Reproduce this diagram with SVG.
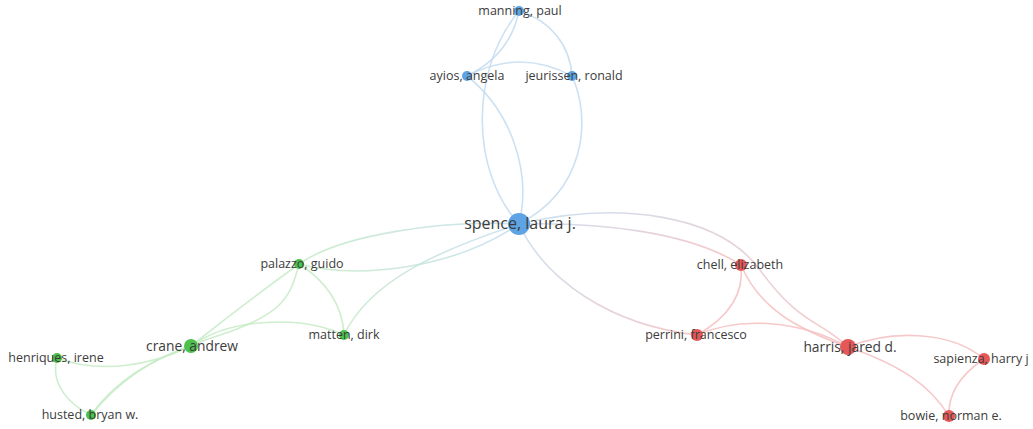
<svg xmlns="http://www.w3.org/2000/svg" width="1033" height="429" viewBox="0 0 1033 429">
<style>
.e{fill:none;stroke-width:1.6;stroke-linecap:round;stroke-opacity:0.85}
.b{stroke:#c4dcf0}
.g{stroke:#c6ebc6}
.r{stroke:#f5c0c0}
.bn{fill:#5ea4e4}
.gn{fill:#4cc24c}
.rn{fill:#e65858}
text{font-family:"Open Sans","Liberation Sans",sans-serif;fill:#3c3c3c;text-anchor:middle;font-size:12.5px}
.l{font-size:16px}
.m{font-size:13.8px}
</style>
<defs>
<linearGradient id="br" gradientUnits="userSpaceOnUse" x1="519" y1="224" x2="741" y2="265">
<stop offset="0" stop-color="#c4dcf0"/><stop offset="1" stop-color="#f5c0c0"/>
</linearGradient>
<linearGradient id="br2" gradientUnits="userSpaceOnUse" x1="519" y1="224" x2="848" y2="347">
<stop offset="0" stop-color="#c4dcf0"/><stop offset="1" stop-color="#f5c0c0"/>
</linearGradient>
<linearGradient id="br3" gradientUnits="userSpaceOnUse" x1="519" y1="224" x2="697" y2="335">
<stop offset="0" stop-color="#c4dcf0"/><stop offset="1" stop-color="#f5c0c0"/>
</linearGradient>
<linearGradient id="bg" gradientUnits="userSpaceOnUse" x1="519" y1="224" x2="299" y2="264">
<stop offset="0" stop-color="#c4dcf0"/><stop offset="1" stop-color="#c6ebc6"/>
</linearGradient>
<linearGradient id="bg2" gradientUnits="userSpaceOnUse" x1="519" y1="224" x2="344" y2="335">
<stop offset="0" stop-color="#c4dcf0"/><stop offset="1" stop-color="#c6ebc6"/>
</linearGradient>
</defs>
<rect width="1033" height="429" fill="#ffffff"/>
<g id="connectors">
<path class="e b" d="M519,11 Q510,55 467,76"/>
<path class="e b" d="M519,11 C470,70 470,170 519,224"/>
<path class="e b" d="M519,11 C550,20 570,45 572,76"/>
<path class="e b" d="M467,76 Q520,48 572,76"/>
<path class="e b" d="M467,76 C510,110 532,170 519,224"/>
<path class="e b" d="M572,76 C592,120 585,190 519,224"/>
<path class="e" stroke="url(#bg)" d="M299,264 C340,235 440,220 519,224"/>
<path class="e" stroke="url(#bg)" d="M299,264 C360,280 455,268 519,224"/>
<path class="e" stroke="url(#bg2)" d="M344,335 C370,280 440,250 519,224"/>
<path class="e" stroke="url(#br)" d="M519,224 C600,222 690,232 741,265"/>
<path class="e" stroke="url(#br2)" d="M519,224 C620,200 720,215 760,270 S820,320 848,347"/>
<path class="e" stroke="url(#br3)" d="M519,224 C545,280 610,325 697,335"/>
<path class="e g" d="M191,346 C230,315 270,285 299,264"/>
<path class="e g" d="M91,415 C120,375 160,355 220,335 S290,300 299,264"/>
<path class="e g" d="M57,358 C100,374 150,366 191,346"/>
<path class="e g" d="M91,415 C120,380 150,360 191,346"/>
<path class="e g" d="M191,346 C230,318 300,315 344,335"/>
<path class="e g" d="M57,358 C50,385 70,405 91,415"/>
<path class="e g" d="M299,264 C325,280 343,305 344,335"/>
<path class="e r" d="M741,265 C745,300 720,322 697,335"/>
<path class="e r" d="M741,265 C760,310 800,330 848,347"/>
<path class="e r" d="M697,335 C740,316 800,320 848,347"/>
<path class="e r" d="M848,347 C890,330 950,330 984,359"/>
<path class="e r" d="M848,347 C900,365 930,385 949,416"/>
<path class="e r" d="M984,359 C960,375 948,395 949,416"/>
</g>
<g id="manning"><circle class="bn" cx="519" cy="11" r="5"/><text x="520" y="15">manning, paul</text></g>
<g id="ayios"><circle class="bn" cx="467" cy="76" r="5"/><text x="467" y="80">ayios, angela</text></g>
<g id="jeurissen"><circle class="bn" cx="572" cy="76" r="5"/><text x="574" y="80">jeurissen, ronald</text></g>
<g id="spence"><circle class="bn" cx="519" cy="224" r="11"/><text class="l" x="520" y="229">spence, laura j.</text></g>
<g id="palazzo"><circle class="gn" cx="299" cy="264" r="5"/><text x="302" y="268">palazzo, guido</text></g>
<g id="crane"><circle class="gn" cx="191" cy="346" r="7"/><text class="m" x="192" y="351">crane, andrew</text></g>
<g id="matten"><circle class="gn" cx="344" cy="335" r="5"/><text x="344" y="339">matten, dirk</text></g>
<g id="henriques"><circle class="gn" cx="57" cy="358" r="5"/><text x="56" y="362">henriques, irene</text></g>
<g id="husted"><circle class="gn" cx="91" cy="415" r="5"/><text x="90" y="419">husted, bryan w.</text></g>
<g id="chell"><circle class="rn" cx="741" cy="265" r="6"/><text x="740" y="269">chell, elizabeth</text></g>
<g id="perrini"><circle class="rn" cx="697" cy="335" r="6"/><text x="696" y="339">perrini, francesco</text></g>
<g id="harris"><circle class="rn" cx="848" cy="347" r="8"/><text class="m" x="850" y="352">harris, jared d.</text></g>
<g id="sapienza"><circle class="rn" cx="984" cy="359" r="6"/><text x="981" y="363">sapienza, harry j</text></g>
<g id="bowie"><circle class="rn" cx="949" cy="416" r="6"/><text x="951" y="420">bowie, norman e.</text></g>
</svg>
